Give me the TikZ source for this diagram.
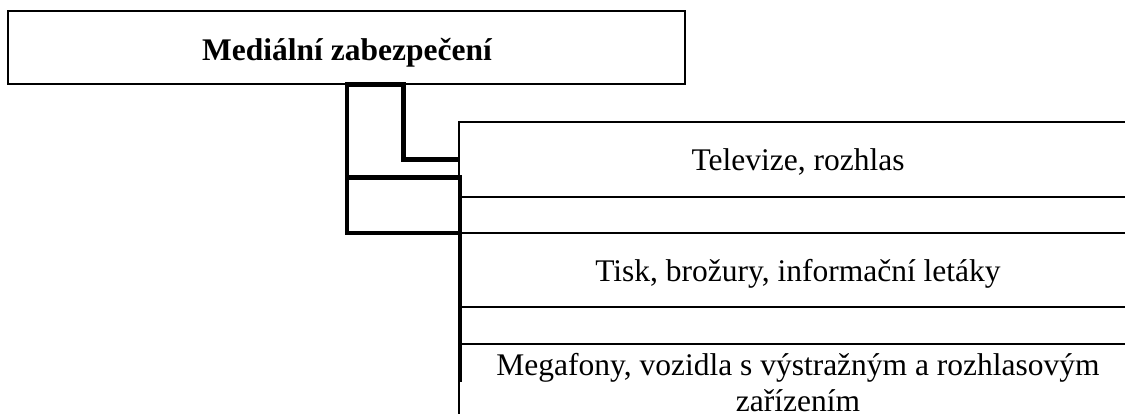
\documentclass[tikz,border=0pt]{standalone}
\usepackage{fontspec}
\setmainfont{Liberation Serif}
\begin{document}
\begin{tikzpicture}[x=1pt,y=-1pt,
  boxst/.style={draw, line width=1.2pt, rectangle, inner sep=0pt, outer sep=0pt, anchor=north west, minimum width=678pt},
  conn/.style={line width=4.6pt, line join=miter},
  lbl/.style={inner sep=0pt, anchor=base, font=\fontsize{31.5}{36}\selectfont, align=center},
  ttl/.style={lbl, font=\fontsize{31.5}{36}\selectfont\bfseries}]
\useasboundingbox (0,0) rectangle (1125,414);
\clip (0,0) rectangle (1125,414);
% top box
\node[boxst, minimum width=677pt, minimum height=73pt] (top) at (8,11) {};
\node[ttl] (ttitle) at (347,61) {Mediální zabezpečení};
% stacked boxes
\node[boxst, minimum height=75pt] (b1) at (459,122) {};
\node[boxst, minimum height=36pt] (b2) at (459,197) {};
\node[boxst, minimum height=74pt] (b3) at (459,233) {};
\node[boxst, minimum height=37pt] (b4) at (459,307) {};
\node[boxst, minimum height=90pt] (b5) at (459,344) {};
% labels
\node[lbl] (t1) at (798,171) {Televize, rozhlas};
\node[lbl] (t3) at (798,282) {Tisk, brožury, informační letáky};
\node[lbl] (t5) at (798,411) {Megafony, vozidla s výstražným a rozhlasovým\\zařízením};
% connectors
\coordinate (j1) at (347,84.5);
\coordinate (j2) at (403.5,84.5);
\coordinate (j3) at (347,177.5);
\coordinate (j4) at (460,177.5);
\coordinate (j5) at (460,382);
\draw[conn] (b1.west) -| (j2) -- (j1) |- (b3.north west);
\draw[conn] (j3) -- (j4) -- (j5);
\end{tikzpicture}
\end{document}
